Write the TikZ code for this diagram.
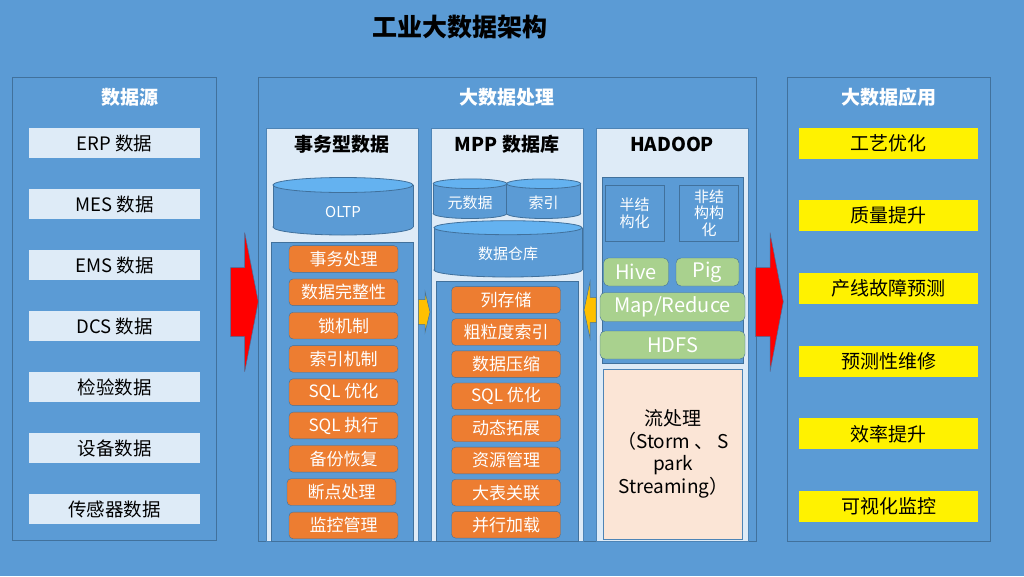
\documentclass[tikz,border=0pt]{standalone}
\usepackage{fontspec}
\setmainfont{Noto Sans CJK SC}
\usetikzlibrary{positioning}
\definecolor{bgblue}{RGB}{91,155,213}
\definecolor{lineblue}{RGB}{65,113,156}
\definecolor{paleblue}{RGB}{222,235,247}
\definecolor{captop}{RGB}{100,178,240}
\definecolor{boxorange}{RGB}{237,125,49}
\definecolor{boxgreen}{RGB}{169,209,142}
\definecolor{peach}{RGB}{251,229,214}
\definecolor{arrowgold}{RGB}{255,192,0}

\begin{document}
\begin{tikzpicture}[x=1pt,y=-1pt]
  \tikzstyle{panel}=[draw=lineblue,line width=0.8pt]
  \tikzstyle{column}=[draw=lineblue!55!bgblue,fill=paleblue,line width=0.8pt]
  \tikzstyle{srcbox}=[fill=paleblue,minimum width=171pt,minimum height=30pt,inner sep=0pt,outer sep=0pt,font=\fontsize{18.5}{20}\selectfont]
  \tikzstyle{appbox}=[fill=yellow,minimum width=179pt,minimum height=31pt,inner sep=0pt,outer sep=0pt,font=\fontsize{19}{20}\selectfont]
  \tikzstyle{opbox}=[fill=boxorange,draw=lineblue,rounded corners=4pt,text=white,minimum width=109pt,minimum height=26.7pt,inner sep=0pt,outer sep=0pt,font=\fontsize{17}{18}\selectfont]
  \tikzstyle{hbox}=[fill=boxgreen,draw=lineblue,rounded corners=5pt,text=white,minimum height=28pt,inner sep=0pt,outer sep=0pt,font=\fontsize{20}{22}\selectfont]
  \tikzstyle{hsub}=[draw=lineblue,line width=0.8pt,text=white,minimum width=59pt,minimum height=56pt,inner sep=0pt,align=center,font=\fontsize{15}{16.7}\selectfont]
  \tikzstyle{ptitle}=[text=white,font=\bfseries\fontsize{19}{22}\selectfont]
  \tikzstyle{ctitle}=[text=black,font=\bfseries\fontsize{19}{22}\selectfont]
  \tikzstyle{cylbody}=[fill=bgblue,draw=lineblue,line width=0.8pt]
  \tikzstyle{cylcap}=[fill=captop,draw=lineblue,line width=0.8pt]
  \tikzstyle{cyltext}=[text=white,font=\fontsize{15}{16.7}\selectfont]
  \tikzstyle{bigarrow}=[fill=red,draw=lineblue,line width=0.5pt]
  \tikzstyle{smallarrow}=[fill=arrowgold,draw=lineblue,line width=0.5pt]

  \fill[bgblue] (0,0) rectangle (1024,576);
  \useasboundingbox (0,0) rectangle (1024,576);
  \node[font=\bfseries\fontsize{25}{28}\selectfont] (title) at (460,27) {工业大数据架构};

  % data sources
  \draw[panel] (12,77) rectangle (216,540);
  \node[ptitle] (srctitle) at (130,97) {数据源};
  \node[srcbox] (erp) at (114.5,143) {ERP 数据};
  \node[srcbox,below=31pt of erp] (mes) {MES 数据};
  \node[srcbox,below=31pt of mes] (ems) {EMS 数据};
  \node[srcbox,below=31pt of ems] (dcs) {DCS 数据};
  \node[srcbox,below=31pt of dcs] (check) {检验数据};
  \node[srcbox,below=31pt of check] (equip) {设备数据};
  \node[srcbox,below=31pt of equip] (sensor) {传感器数据};

  % processing
  \draw[panel] (258,77) rectangle (756,541);
  \node[ptitle] (proctitle) at (507,97) {大数据处理};
  \draw[column] (266,128) rectangle (418,541);
  \draw[column] (431,128) rectangle (583,541);
  \draw[column] (596,128) rectangle (748,541);
  \node[ctitle] (txtitle) at (342,144) {事务型数据};
  \node[ctitle] (mpptitle) at (507,144) {MPP 数据库};
  \node[ctitle] (hadooptitle) at (672,144) {HADOOP};

  % OLTP cylinder
  \draw[cylbody] (343,227) ellipse [x radius=70pt,y radius=8pt];
  \fill[bgblue] (273,185) rectangle (413,227);
  \draw[lineblue,line width=0.8pt] (273,185) -- (273,227) (413,185) -- (413,227);
  \draw[cylcap] (343,185) ellipse [x radius=70pt,y radius=7.5pt];
  \node[cyltext] (oltp) at (343,212) {OLTP};

  \draw[panel,fill=bgblue] (271,242) rectangle (413,541);
  \node[opbox] (tx1) at (343.5,259) {事务处理};
  \node[opbox,below=6.6pt of tx1] (tx2) {数据完整性};
  \node[opbox,below=6.6pt of tx2] (tx3) {锁机制};
  \node[opbox,below=6.6pt of tx3] (tx4) {索引机制};
  \node[opbox,below=6.6pt of tx4] (tx5) {SQL 优化};
  \node[opbox,below=6.6pt of tx5] (tx6) {SQL 执行};
  \node[opbox,below=6.6pt of tx6] (tx7) {备份恢复};
  \node[opbox,below=6.6pt of tx7,xshift=-2pt] (tx8) {断点处理};
  \node[opbox,below=6.6pt of tx8,xshift=2pt] (tx9) {监控管理};

  % MPP cylinders
  \draw[cylbody] (470,213.5) ellipse [x radius=36.8pt,y radius=5pt];
  \fill[bgblue] (433.2,183.7) rectangle (506.8,213.5);
  \draw[lineblue,line width=0.8pt] (433.2,183.7) -- (433.2,213.5) (506.8,183.7) -- (506.8,213.5);
  \draw[cylcap] (470,183.7) ellipse [x radius=36.8pt,y radius=4.8pt];
  \node[cyltext] (meta) at (470,202.5) {元数据};
  \draw[cylbody] (543.7,213.5) ellipse [x radius=37pt,y radius=5pt];
  \fill[bgblue] (506.7,183.7) rectangle (580.7,213.5);
  \draw[lineblue,line width=0.8pt] (506.7,183.7) -- (506.7,213.5) (580.7,183.7) -- (580.7,213.5);
  \draw[cylcap] (543.7,183.7) ellipse [x radius=37pt,y radius=4.8pt];
  \node[cyltext] (index) at (543.7,202.5) {索引};
  \draw[cylbody] (508,270) ellipse [x radius=74pt,y radius=7pt];
  \fill[bgblue] (434,227.7) rectangle (582,270);
  \draw[lineblue,line width=0.8pt] (434,227.7) -- (434,270) (582,227.7) -- (582,270);
  \draw[cylcap] (508,227.7) ellipse [x radius=74pt,y radius=7pt];
  \node[cyltext] (dw) at (508,254) {数据仓库};

  \draw[panel,fill=bgblue] (436,281) rectangle (578,541);
  \node[opbox] (mpp1) at (506,300) {列存储};
  \node[opbox,below=5.4pt of mpp1] (mpp2) {粗粒度索引};
  \node[opbox,below=5.4pt of mpp2] (mpp3) {数据压缩};
  \node[opbox,below=5.4pt of mpp3] (mpp4) {SQL 优化};
  \node[opbox,below=5.4pt of mpp4] (mpp5) {动态拓展};
  \node[opbox,below=5.4pt of mpp5] (mpp6) {资源管理};
  \node[opbox,below=5.4pt of mpp6] (mpp7) {大表关联};
  \node[opbox,below=5.4pt of mpp7] (mpp8) {并行加载};

  % hadoop stack
  \draw[panel,fill=bgblue] (602,177) rectangle (743,363);
  \node[hsub] (semi) at (634.5,213) {半结\\构化};
  \node[hsub] (unstruct) at (709,213) {非结\\构构\\化};
  \node[hbox,minimum width=65pt] (hive) at (636,272) {Hive};
  \node[hbox,minimum width=63pt] (pig) at (707.5,272) {Pig};
  \node[hbox,minimum width=145pt,minimum height=29pt] (mapred) at (672.5,307) {Map/Reduce};
  \node[hbox,minimum width=145pt] (hdfs) at (672.5,345) {HDFS};
  \node[draw=lineblue!55!bgblue,line width=0.8pt,fill=peach,minimum width=139pt,minimum height=170pt,inner sep=0pt,align=center,font=\fontsize{19}{22.6}\selectfont] (stream) at (673.3,454) {流处理\\（Storm 、 S\\park\\Streaming）};

  % applications
  \draw[panel] (787,77) rectangle (990,541);
  \node[ptitle] (apptitle) at (888.5,97) {大数据应用};
  \node[appbox] (craft) at (888.7,143) {工艺优化};
  \node[appbox,below=41.7pt of craft] (quality) {质量提升};
  \node[appbox,below=41.7pt of quality] (fault) {产线故障预测};
  \node[appbox,below=41.7pt of fault] (maint) {预测性维修};
  \node[appbox,below=41.7pt of maint] (effic) {效率提升};
  \node[appbox,below=41.7pt of effic] (monitor) {可视化监控};

  % block arrows
  \draw[bigarrow] (230.7,267.7) -- (244.7,267.7) -- (244.7,232.7) -- (258.3,301.7) -- (244.7,371.7) -- (244.7,336.7) -- (230.7,336.7) -- cycle;
  \draw[bigarrow] (755.7,267.7) -- (770,267.7) -- (770,232.7) -- (783.3,301.7) -- (770,371.7) -- (770,336.7) -- (755.7,336.7) -- cycle;
  \draw[smallarrow] (418.3,299.5) -- (425,299.5) -- (425,291.5) -- (430,312) -- (425,332.5) -- (425,324.5) -- (418.3,324.5) -- cycle;
  \draw[smallarrow] (596,297.3) -- (590,297.3) -- (590,281.7) -- (584,310) -- (590,338.3) -- (590,322.7) -- (596,322.7) -- cycle;
\end{tikzpicture}
\end{document}
